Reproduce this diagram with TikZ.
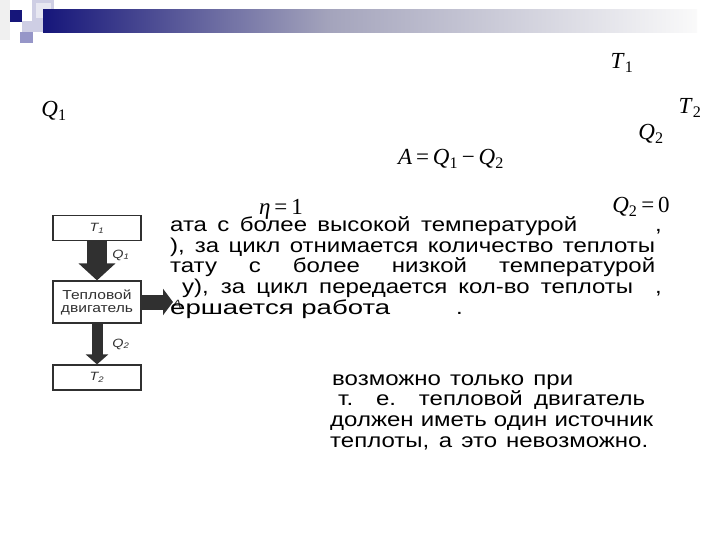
\documentclass[tikz,border=0pt]{standalone}
\usepackage{fontspec}
\newfontfamily\rusfont[FakeStretch=1.2]{Liberation Sans}
\newfontfamily\tmsfont{Liberation Serif}
\usetikzlibrary{arrows.meta, positioning}
\definecolor{navy}{RGB}{22,22,122}
\definecolor{barmid}{RGB}{164,164,188}
\definecolor{lav}{RGB}{206,206,228}
\definecolor{midlav}{RGB}{150,150,200}
\definecolor{figgray}{RGB}{48,48,48}
\newcommand\mathq[2]{\textit{#1}\textsubscript{#2}}

\begin{document}
\begin{tikzpicture}[x=1pt, y=-1pt, >=Triangle,
	rustxt/.style={font=\rusfont\fontsize{20}{21}\selectfont, anchor=base west, inner sep=0pt},
	mth/.style={font=\tmsfont\fontsize{23}{24}\selectfont, inner sep=0pt},
	blk/.style={draw=figgray, line width=1.2pt, minimum width=88pt, inner sep=0pt, text=figgray},
	figlbl/.style={font=\rusfont\itshape\fontsize{12}{12}\selectfont, text=figgray, inner sep=0pt}]
	\fill[white] (0, 0) rectangle (720, 540);
	\useasboundingbox (0, 0) rectangle (720, 540);
	% title bar
	\fill[gray!12] (0, 0) rectangle (10, 40);
	\fill[lav] (32, 0) rectangle (54, 21);
	\fill[lav!50] (36, 3) rectangle (51, 18);
	\fill[lav] (22, 21) rectangle (43, 32);
	\fill[midlav] (20, 32) rectangle (33, 43);
	\fill[navy] (10, 10) rectangle (22, 22);
	\shade[left color=navy, right color=barmid] (43, 10) rectangle (330, 33);
	\shade[left color=barmid, right color=gray!4] (330, 10) rectangle (697, 33);

	% formulas
	\node[mth] (tone) at (622, 63) {\mathq{T}{1}};
	\node[mth] (ttwo) at (690, 108) {\mathq{T}{2}};
	\node[mth] (qone) at (54, 111) {\mathq{Q}{1}};
	\node[mth] (qtwo) at (651, 134) {\mathq{Q}{2}};
	\node[mth] (work) at (451, 159) {\textit{A}\,=\,\mathq{Q}{1}\,−\,\mathq{Q}{2}};
	\node[mth] (eta) at (281, 209) {\textit{η}\,=\,1};
	\node[mth] (qzero) at (641, 207) {\mathq{Q}{2}\,=\,0};

	% heat engine scheme
	\node[blk, minimum height=25pt, font=\rusfont\itshape\fontsize{12}{12}\selectfont] (t1) at (97, 228) {T\textsubscript{1}};
	\node[blk, minimum height=42pt, align=center, font=\rusfont\fontsize{13}{13}\selectfont] (eng) at (97, 302) {Тепловой\\двигатель};
	\node[blk, minimum height=25pt, font=\rusfont\itshape\fontsize{12}{12}\selectfont] (t2) at (97, 377.5) {T\textsubscript{2}};
	\coordinate (aend) at (173, 302);
	\draw[figgray, line width=20pt, -{Triangle[width=36pt, length=17pt]}] (t1) -- (eng);
	\draw[figgray, line width=15pt, -{Triangle[width=26pt, length=10pt]}] (eng) -- (aend);
	\draw[figgray, line width=11pt, -{Triangle[width=22pt, length=10pt]}] (eng) -- (t2);
	\node[figlbl] (q1lbl) at (121, 255) {Q\textsubscript{1}};
	\node[figlbl] (q2lbl) at (121, 344) {Q\textsubscript{2}};
	\node[figlbl, anchor=west] (albl) at (172, 304) {A};

	% text
	\node[rustxt] (la) at (170, 232) {\makebox[407pt][s]{ата с более высокой температурой}};
	\node[rustxt] (lacomma) at (655, 232) {,};
	\node[rustxt] (lb) at (170, 252) {\makebox[485pt][s]{), за цикл отнимается количество теплоты}};
	\node[rustxt] (lc) at (170, 272) {\makebox[485pt][s]{тату с более низкой температурой}};
	\node[rustxt] (ld) at (182, 293) {\makebox[451pt][s]{у), за цикл передается кол-во теплоты}};
	\node[rustxt] (ldcomma) at (655, 293) {,};
	\node[rustxt] (le) at (170, 314) {\resizebox{220pt}{\height}{ершается работа}};
	\node[rustxt] (ledot) at (456, 314) {.};

	\node[rustxt] (ma) at (332, 385) {\makebox[241pt][s]{возможно только при}};
	\node[rustxt] (mb) at (338, 405) {\makebox[307pt][s]{т. е. тепловой двигатель}};
	\node[rustxt] (mc) at (330, 426) {\makebox[323pt][s]{должен иметь один источник}};
	\node[rustxt] (md) at (330, 447) {\makebox[318pt][s]{теплоты, а это невозможно.}};
\end{tikzpicture}
\end{document}
